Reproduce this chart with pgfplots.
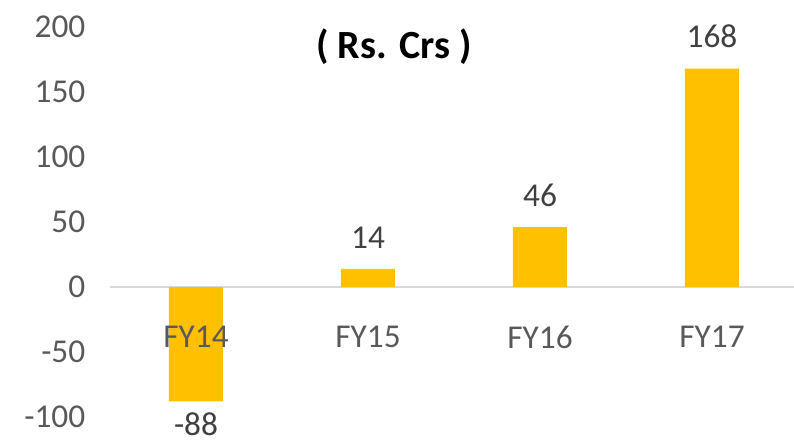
\documentclass[border=0pt]{standalone}
\usepackage{pgfplots}
\pgfplotsset{compat=1.18}
\usepackage{fontspec}
\setmainfont{Carlito}

\definecolor{bargold}{HTML}{FFC000}
\definecolor{ticktext}{HTML}{595959}
\definecolor{labeltext}{HTML}{404040}
\definecolor{zeroline}{HTML}{D9D9D9}

\begin{document}
\begin{tikzpicture}
  % picture frame: 794x440 px at 0.75pt per px
  \useasboundingbox (-82.5pt,-17.25pt) rectangle (513pt,312.75pt);
  \begin{axis}[
      at={(0,0)}, anchor=south west,
      scale only axis,
      width=516pt, height=292.5pt,
      xmin=-0.5, xmax=3.5,
      ymin=-100, ymax=200,
      ytick={-100,-50,0,50,100,150,200},
      xtick={0,1,2,3},
      xticklabels={FY14,FY15,FY16,FY17},
      axis line style={draw=none},
      major tick length=0pt,
      axis on top,
      ybar, bar width=40.5pt,
      clip=false,
      ticklabel style={font=\fontsize{25}{29}\selectfont, text=ticktext},
      /pgf/number format/assume math mode=true,
      yticklabel style={xshift=-15pt},
      xticklabel style={anchor=center, yshift=60pt},
      nodes near coords,
      nodes near coords style={font=\fontsize{25}{29}\selectfont, text=labeltext,
        inner sep=1pt, outer sep=11pt, yshift=3.5pt},
    ]
    \draw[zeroline, line width=1.5pt] (axis cs:-0.5,0) -- (axis cs:3.5,0);
    \addplot[fill=bargold, draw=none] coordinates {
      (0,-88) (1,14) (2,46) (3,168)
    };
    \node[font=\bfseries\fontsize{30}{34}\selectfont, text=black]
      at (rel axis cs:0.4128,0.9487) {( Rs. Crs )};
  \end{axis}
\end{tikzpicture}
\end{document}
